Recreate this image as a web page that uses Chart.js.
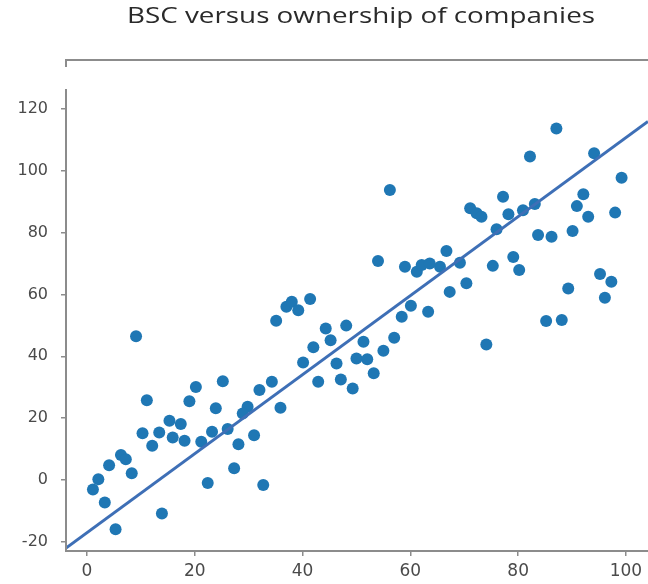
<!DOCTYPE html>
<html>
<head>
<meta charset="utf-8">
<script src="https://cdn.jsdelivr.net/npm/chart.js@4.4.1/dist/chart.umd.min.js"></script>
<style>
  html, body { margin: 0; padding: 0; background: #ffffff; }
  #wrap { width: 648px; height: 584px; position: relative; }
</style>
</head>
<body>
<div id="wrap"><canvas id="chart" width="648" height="584"></canvas></div>
<script>
// Ownership of companies (x) against BSC score (y)
const ownership = [
  9.1, 11.1, 20.2, 25.2, 19.0, 23.9, 32.0, 29.8, 28.9, 10.3,
  13.4, 15.3, 17.4, 12.1, 15.9, 18.1, 21.2, 23.2, 26.1, 28.1,
  31.0, 27.3, 22.4, 32.7, 6.3, 7.2, 4.1, 8.3, 2.1, 1.1,
  3.3, 13.9, 5.3, 34.3, 35.9, 35.1, 37.0, 38.0, 39.2, 41.4,
  40.1, 42.9, 42.0, 44.3, 45.2, 46.3, 48.1, 47.1, 49.3, 51.3,
  50.0, 52.0, 53.2, 55.0, 57.0, 58.4, 60.1, 63.3, 54.0, 59.0,
  61.2, 62.1, 63.6, 65.5, 67.3, 56.2, 87.1, 82.2, 94.1, 99.2,
  77.2, 71.1, 72.3, 73.2, 78.2, 80.9, 83.1, 76.0, 92.1, 90.9,
  93.0, 98.0, 83.7, 86.2, 90.1, 66.7, 69.2, 75.3, 79.1, 80.2,
  70.4, 95.2, 97.3, 89.3, 96.1, 85.2, 88.1, 74.1
];
const bsc = [
  46.5, 25.8, 30.1, 31.9, 25.5, 23.2, 29.1, 23.7, 21.5, 15.1,
  15.4, 19.2, 18.1, 11.1, 13.8, 12.7, 12.4, 15.6, 16.5, 11.6,
  14.5, 3.8, -0.9, -1.6, 8.1, 6.7, 4.8, 2.2, 0.3, -3.0,
  -7.2, -10.8, -15.9, 31.8, 23.4, 51.5, 56.0, 57.6, 54.9, 58.5,
  38.0, 31.8, 42.9, 49.0, 45.2, 37.7, 49.9, 32.5, 29.6, 44.7,
  39.3, 39.0, 34.5, 41.8, 46.0, 52.8, 56.3, 54.4, 70.8, 68.9,
  67.3, 69.5, 70.0, 68.9, 60.8, 93.7, 113.6, 104.5, 105.6, 97.7,
  91.5, 87.8, 86.2, 85.1, 85.9, 87.2, 89.2, 81.0, 92.3, 88.5,
  85.1, 86.4, 79.2, 78.6, 80.5, 74.0, 70.2, 69.2, 72.1, 67.9,
  63.6, 66.6, 64.1, 61.9, 58.9, 51.4, 51.7, 43.8
];

// Fitted trend line
const fitSlope = 1.276;
const fitIntercept = -17.0;

// Axis ranges and tick labels
const xRange = [-3.9, 104.1];
const yRange = [-22.9, 135.7];
const xTicks = [0, 20, 40, 60, 80, 100];
const yTicks = [-20, 0, 20, 40, 60, 80, 100, 120];

const titleText = 'BSC versus ownership of companies';

const points = ownership.map((x, i) => ({ x: x, y: bsc[i] }));
const trend = xRange.map(x => ({ x: x, y: fitIntercept + fitSlope * x }));

const SPINE = '#8c8c8c';

// Title and axis frame
const framePlugin = {
  id: 'frame',
  afterDraw(chart) {
    const { ctx, chartArea } = chart;
    const L = chartArea.left, R = chart.width, B = chartArea.bottom, T = chartArea.top;
    ctx.save();
    ctx.strokeStyle = SPINE;
    ctx.lineWidth = 2;
    ctx.beginPath();
    // top rule with a short drop at its left end
    ctx.moveTo(L, T + 7);
    ctx.lineTo(L, T);
    ctx.lineTo(R, T);
    // left spine
    ctx.moveTo(L, T + 29);
    ctx.lineTo(L, B);
    // bottom spine
    ctx.lineTo(R, B);
    ctx.stroke();
    ctx.restore();

    // title, stretched to its wide letterform
    ctx.save();
    ctx.fillStyle = '#2a2a2a';
    ctx.font = '21px "Open Sans", sans-serif';
    ctx.textAlign = 'left';
    ctx.textBaseline = 'alphabetic';
    const w = ctx.measureText(titleText).width;
    const target = 468;
    ctx.translate(127, 23);
    ctx.scale(target / w, 1);
    ctx.fillText(titleText, 0, 0);
    ctx.restore();
  }
};

new Chart(document.getElementById('chart'), {
  type: 'scatter',
  data: {
    datasets: [
      {
        label: 'Companies',
        data: points,
        backgroundColor: '#1f77b4',
        borderColor: '#1f77b4',
        pointRadius: 6,
        pointHoverRadius: 6,
        borderWidth: 0
      },
      {
        label: 'Trend',
        type: 'line',
        data: trend,
        borderColor: '#3e6fb6',
        borderWidth: 3,
        pointRadius: 0,
        fill: false,
        order: -1
      }
    ]
  },
  options: {
    responsive: false,
    animation: false,
    layout: { autoPadding: false, padding: { top: 60, left: 0, right: 0, bottom: 0 } },
    plugins: {
      legend: { display: false },
      title: { display: false },
      tooltip: { enabled: false }
    },
    scales: {
      x: {
        type: 'linear',
        min: xRange[0],
        max: xRange[1],
        afterBuildTicks: s => { s.ticks = xTicks.map(v => ({ value: v })); },
        afterFit: s => { s.height = 33; s.paddingLeft = 0; s.paddingRight = 0; },
        border: { display: false },
        grid: { drawOnChartArea: false, drawTicks: true, tickLength: 5, tickColor: SPINE, lineWidth: 1.5 },
        ticks: {
          padding: 5,
          color: '#4a4a4a',
          font: { family: 'DejaVu Sans', size: 17 },
          maxRotation: 0
        }
      },
      y: {
        type: 'linear',
        min: yRange[0],
        max: yRange[1],
        afterBuildTicks: s => { s.ticks = yTicks.map(v => ({ value: v })); },
        afterFit: s => { s.width = 66; s.paddingTop = 0; s.paddingBottom = 0; },
        border: { display: false },
        grid: { drawOnChartArea: false, drawTicks: true, tickLength: 5, tickColor: SPINE, lineWidth: 1.5 },
        ticks: {
          padding: 13,
          color: '#4a4a4a',
          font: { family: 'DejaVu Sans', size: 16 }
        }
      }
    }
  },
  plugins: [framePlugin]
});
</script>
</body>
</html>
